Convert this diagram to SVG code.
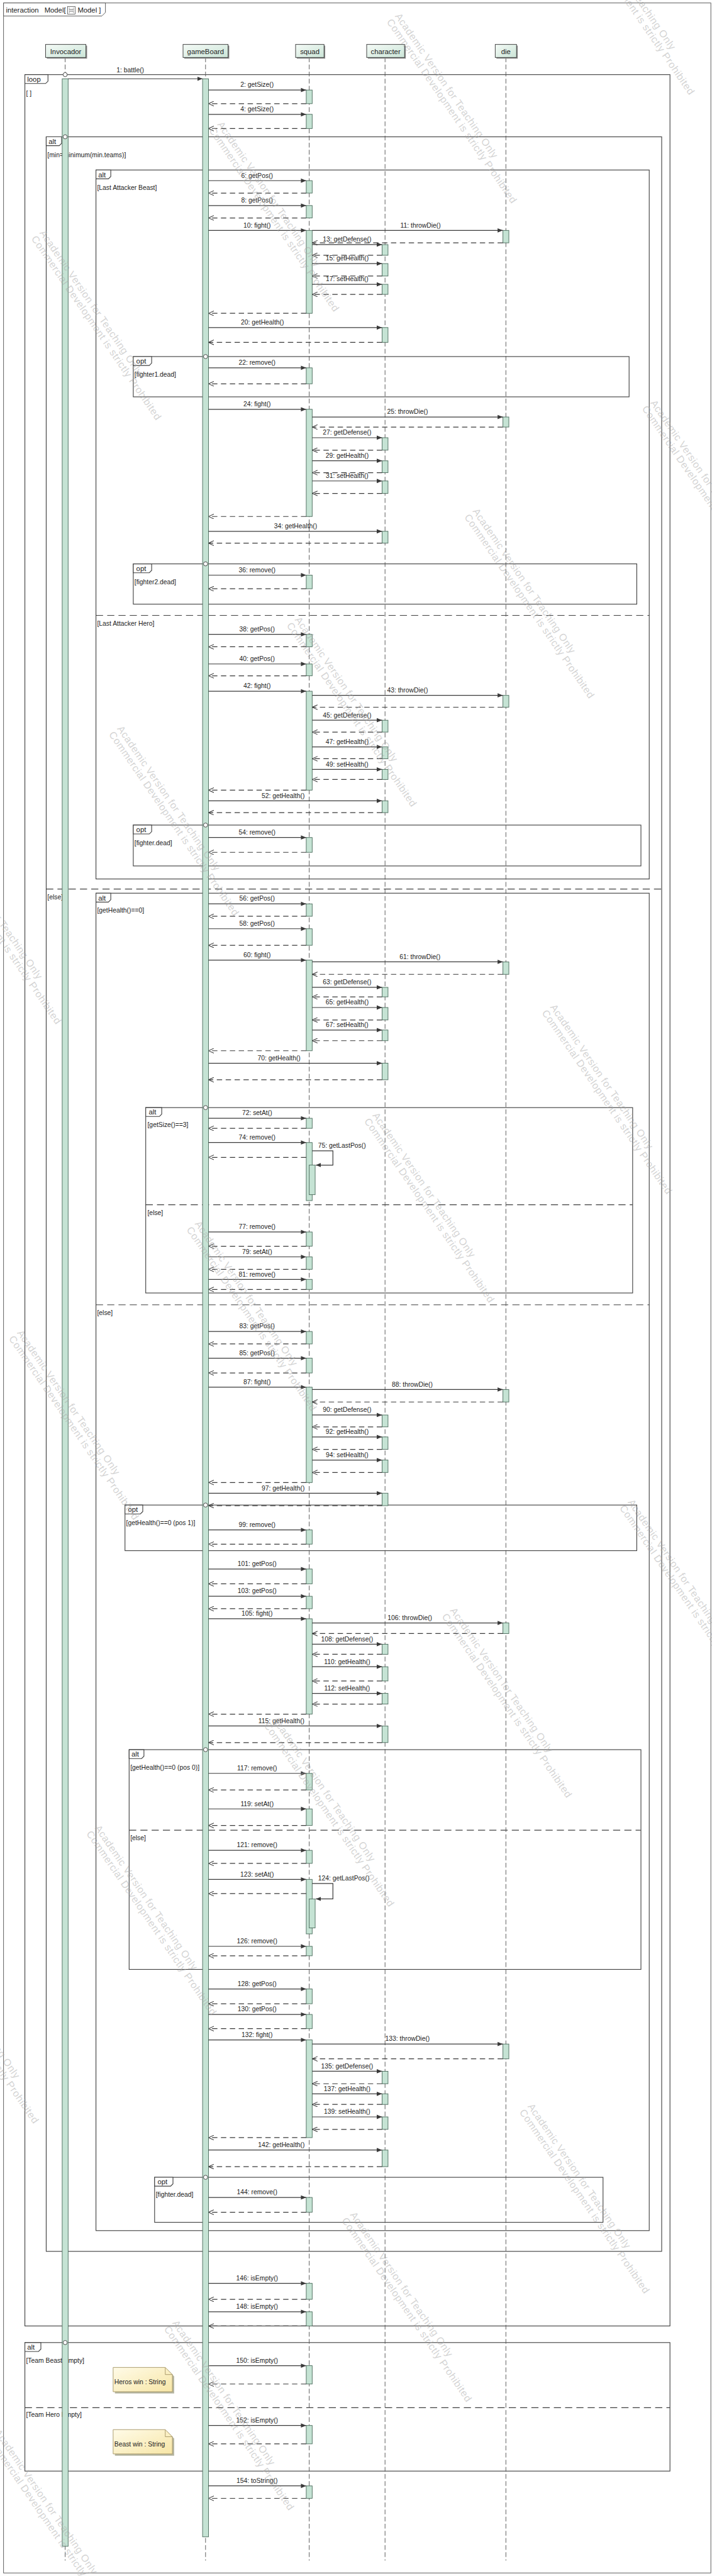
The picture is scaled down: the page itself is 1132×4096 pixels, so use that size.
<svg xmlns="http://www.w3.org/2000/svg" width="1132" height="4096" viewBox="0 0 1132 4096">
<defs>
<linearGradient id="hg" x1="0" y1="0" x2="1" y2="1"><stop offset="0" stop-color="#f4faf6"/><stop offset="1" stop-color="#cbe5d7"/></linearGradient>
<linearGradient id="ng" x1="0" y1="0" x2="1" y2="1"><stop offset="0" stop-color="#fffbe8"/><stop offset="1" stop-color="#f7e6a6"/></linearGradient>
<marker id="ah" viewBox="0 0 10 10" refX="10" refY="5" markerWidth="9" markerHeight="9" markerUnits="userSpaceOnUse" orient="auto"><path d="M0,1 L10,5 L0,9 Z" fill="#3a3a3a"/></marker>
<marker id="oh" viewBox="0 0 10 10" refX="10" refY="5" markerWidth="9" markerHeight="9" markerUnits="userSpaceOnUse" orient="auto"><path d="M0,0.5 L10,5 L0,9.5" fill="none" stroke="#3a3a3a" stroke-width="1.2"/></marker>
<style>
text{font-family:'Liberation Sans',Arial,sans-serif;fill:#222}
.l{font-size:11px;text-anchor:middle}
.g{font-size:11px}
.t{font-size:12px}
.ht{font-size:12px;text-anchor:middle}
.hd{fill:url(#hg);stroke:#3c3c3c;stroke-width:1}
.sh{fill:#8a8a8a}
.ll{stroke:#555;stroke-width:1;stroke-dasharray:8 4}
.act{fill:#c5e3d4;stroke:#4f6f60;stroke-width:1}
.m{stroke:#3a3a3a;stroke-width:1.3;fill:none;marker-end:url(#ah)}
.r{stroke:#3a3a3a;stroke-width:1.3;fill:none;stroke-dasharray:9 6;marker-end:url(#oh)}
.fr{fill:none;stroke:#404040;stroke-width:1.2}
.tab{fill:#fff;stroke:#404040;stroke-width:1.2}
.sep{stroke:#404040;stroke-width:1.2;stroke-dasharray:12 7}
.ci{fill:#fff;stroke:#404040;stroke-width:1}
.wm text{font-size:17px;letter-spacing:0.6px;fill:#a8a8a8;fill-opacity:0.5}
</style>
</defs>
<g transform="scale(0.9418)">
<rect x="0" y="0" width="1202" height="4349" fill="#fff"/>
<!-- interaction frame -->
<g id="interaction-frame">
<rect x="6" y="5" width="1194" height="4339" fill="none" stroke="#555" stroke-width="1"/>
<path d="M6,5 H178 V21 L172,27 H6 Z" fill="#fff" stroke="#555" stroke-width="1"/>
<text class="t" x="10" y="21">interaction</text>
<text class="t" x="75" y="21">Model[</text>
<rect x="114" y="11" width="13" height="13" fill="#fff" stroke="#444" stroke-width="0.8"/>
<line x1="117" y1="13" x2="117" y2="22" stroke="#444" stroke-width="0.7" stroke-dasharray="1.5 1"/>
<line x1="124" y1="13" x2="124" y2="22" stroke="#444" stroke-width="0.7" stroke-dasharray="1.5 1"/>
<line x1="117" y1="16" x2="124" y2="16" stroke="#444" stroke-width="0.8"/>
<line x1="117" y1="19" x2="124" y2="19" stroke="#444" stroke-width="0.8"/>
<text class="t" x="131" y="21">Model ]</text>
</g>
<!-- fragments -->
<g id="fragments">
<g id="loop1"><rect class="fr" x="42" y="126" width="1089" height="3801"/><path class="tab" d="M42,126 H81 V137 L77,141 H42 Z"/><text class="t" x="46" y="138">loop</text><text class="g" x="44" y="161">[ ]</text></g>
<g id="alt-outer"><rect class="fr" x="78" y="231" width="1039" height="3570"/><path class="tab" d="M78,231 H104 V242 L100,246 H78 Z"/><text class="t" x="82" y="243">alt</text><text class="g" x="80" y="265">[min=minimum(min.teams)]</text><line class="sep" x1="78" y1="1501" x2="1117" y2="1501"/><text class="g" x="80" y="1518">[else]</text></g>
<g id="alt-attacker"><rect class="fr" x="162" y="287" width="934" height="1197"/><path class="tab" d="M162,287 H187 V298 L183,302 H162 Z"/><text class="t" x="166" y="299">alt</text><text class="g" x="164" y="321">[Last Attacker Beast]</text><line class="sep" x1="162" y1="1039" x2="1096" y2="1039"/><text class="g" x="164" y="1056">[Last Attacker Hero]</text></g>
<g id="opt-fighter1"><rect class="fr" x="225" y="602" width="837" height="68"/><path class="tab" d="M225,602 H256 V613 L252,617 H225 Z"/><text class="t" x="230" y="614">opt</text><text class="g" x="227" y="636">[fighter1.dead]</text></g>
<g id="opt-fighter2"><rect class="fr" x="225" y="952" width="850" height="68"/><path class="tab" d="M225,952 H256 V963 L252,967 H225 Z"/><text class="t" x="230" y="964">opt</text><text class="g" x="227" y="986">[fighter2.dead]</text></g>
<g id="opt-fighter"><rect class="fr" x="225" y="1393" width="857" height="69"/><path class="tab" d="M225,1393 H256 V1404 L252,1408 H225 Z"/><text class="t" x="230" y="1405">opt</text><text class="g" x="227" y="1427">[fighter.dead]</text></g>
<g id="alt-health"><rect class="fr" x="162" y="1508" width="934" height="2258"/><path class="tab" d="M162,1508 H187 V1519 L183,1523 H162 Z"/><text class="t" x="166" y="1520">alt</text><text class="g" x="164" y="1541">[getHealth()==0]</text><line class="sep" x1="162" y1="2203" x2="1096" y2="2203"/><text class="g" x="164" y="2220">[else]</text></g>
<g id="alt-size"><rect class="fr" x="246" y="1870" width="822" height="313"/><path class="tab" d="M246,1870 H273 V1881 L269,1885 H246 Z"/><text class="t" x="251" y="1882">alt</text><text class="g" x="249" y="1903">[getSize()==3]</text><line class="sep" x1="246" y1="2034" x2="1068" y2="2034"/><text class="g" x="249" y="2051">[else]</text></g>
<g id="opt-pos1"><rect class="fr" x="211" y="2541" width="864" height="77"/><path class="tab" d="M211,2541 H241 V2552 L237,2556 H211 Z"/><text class="t" x="216" y="2553">opt</text><text class="g" x="213" y="2575">[getHealth()==0 (pos 1)]</text></g>
<g id="alt-pos0"><rect class="fr" x="218" y="2954" width="864" height="371"/><path class="tab" d="M218,2954 H243 V2965 L239,2969 H218 Z"/><text class="t" x="222" y="2966">alt</text><text class="g" x="220" y="2988">[getHealth()==0 (pos 0)]</text><line class="sep" x1="218" y1="3090" x2="1082" y2="3090"/><text class="g" x="220" y="3107">[else]</text></g>
<g id="opt-dead"><rect class="fr" x="261" y="3676" width="757" height="76"/><path class="tab" d="M261,3676 H292 V3687 L288,3691 H261 Z"/><text class="t" x="266" y="3688">opt</text><text class="g" x="263" y="3709">[fighter.dead]</text></g>
<g id="alt-team"><rect class="fr" x="42" y="3955" width="1089" height="217"/><path class="tab" d="M42,3955 H69 V3966 L65,3970 H42 Z"/><text class="t" x="46" y="3967">alt</text><text class="g" x="44" y="3989">[Team Beast Empty]</text><line class="sep" x1="42" y1="4065" x2="1131" y2="4065"/><text class="g" x="44" y="4081">[Team Hero Empty]</text></g>
</g>
<!-- notes -->
<g id="note-heros"><path d="M194,4000 H282 L294,4012 V4041 H194 Z" fill="#b5b5a0"/><path d="M191,3997 H279 L291,4009 V4038 H191 Z" fill="url(#ng)" stroke="#a89868" stroke-width="1"/><path d="M279,3997 V4009 H291" fill="none" stroke="#a89868" stroke-width="1"/><text class="g" x="193" y="4025">Heros win : String</text></g>
<g id="note-beast"><path d="M194,4105 H282 L294,4117 V4146 H194 Z" fill="#b5b5a0"/><path d="M191,4102 H279 L291,4114 V4143 H191 Z" fill="url(#ng)" stroke="#a89868" stroke-width="1"/><path d="M279,4102 V4114 H291" fill="none" stroke="#a89868" stroke-width="1"/><text class="g" x="193" y="4130">Beast win : String</text></g>
<!-- lifelines -->
<g id="invocador">
<line class="ll" x1="110" y1="97" x2="110" y2="4323"/>
<rect class="sh" x="79" y="77" width="68" height="22"/><rect class="hd" x="77" y="75" width="68" height="22"/><text class="ht" x="111" y="91">Invocador</text>
<rect class="act" x="105" y="133" width="10" height="4166"/>
</g>
<g id="gameBoard">
<line class="ll" x1="347" y1="97" x2="347" y2="4323"/>
<rect class="sh" x="311" y="77" width="76" height="22"/><rect class="hd" x="309" y="75" width="76" height="22"/><text class="ht" x="347" y="91">gameBoard</text>
<rect class="act" x="342" y="133" width="10" height="4150"/>
</g>
<g id="squad">
<line class="ll" x1="522" y1="97" x2="522" y2="4323"/>
<rect class="sh" x="501" y="77" width="48" height="22"/><rect class="hd" x="499" y="75" width="48" height="22"/><text class="ht" x="523" y="91">squad</text>
<rect class="act" x="517" y="152" width="10" height="23"/>
<rect class="act" x="517" y="193" width="10" height="24"/>
<rect class="act" x="517" y="305" width="10" height="21"/>
<rect class="act" x="517" y="347" width="10" height="21"/>
<rect class="act" x="517" y="389" width="10" height="140"/>
<rect class="act" x="517" y="621" width="10" height="27"/>
<rect class="act" x="517" y="691" width="10" height="181"/>
<rect class="act" x="517" y="971" width="10" height="23"/>
<rect class="act" x="517" y="1071" width="10" height="21"/>
<rect class="act" x="517" y="1121" width="10" height="20"/>
<rect class="act" x="517" y="1167" width="10" height="167"/>
<rect class="act" x="517" y="1414" width="10" height="25"/>
<rect class="act" x="517" y="1526" width="10" height="21"/>
<rect class="act" x="517" y="1568" width="10" height="28"/>
<rect class="act" x="517" y="1621" width="10" height="153"/>
<rect class="act" x="517" y="1888" width="10" height="17"/>
<rect class="act" x="517" y="1929" width="10" height="98"/>
<rect class="act" x="522" y="1967" width="10" height="50"/>
<rect class="act" x="517" y="2080" width="10" height="24"/>
<rect class="act" x="517" y="2122" width="10" height="21"/>
<rect class="act" x="517" y="2160" width="10" height="17"/>
<rect class="act" x="517" y="2248" width="10" height="21"/>
<rect class="act" x="517" y="2293" width="10" height="25"/>
<rect class="act" x="517" y="2342" width="10" height="161"/>
<rect class="act" x="517" y="2583" width="10" height="24"/>
<rect class="act" x="517" y="2649" width="10" height="25"/>
<rect class="act" x="517" y="2695" width="10" height="21"/>
<rect class="act" x="517" y="2733" width="10" height="161"/>
<rect class="act" x="517" y="2994" width="10" height="28"/>
<rect class="act" x="517" y="3054" width="10" height="28"/>
<rect class="act" x="517" y="3124" width="10" height="22"/>
<rect class="act" x="517" y="3173" width="10" height="92"/>
<rect class="act" x="522" y="3206" width="10" height="49"/>
<rect class="act" x="517" y="3286" width="10" height="16"/>
<rect class="act" x="517" y="3358" width="10" height="25"/>
<rect class="act" x="517" y="3401" width="10" height="24"/>
<rect class="act" x="517" y="3444" width="10" height="165"/>
<rect class="act" x="517" y="3710" width="10" height="25"/>
<rect class="act" x="517" y="3855" width="10" height="27"/>
<rect class="act" x="517" y="3903" width="10" height="24"/>
<rect class="act" x="517" y="3994" width="10" height="31"/>
<rect class="act" x="517" y="4095" width="10" height="31"/>
<rect class="act" x="517" y="4197" width="10" height="21"/>
</g>
<g id="character">
<line class="ll" x1="650" y1="97" x2="650" y2="4323"/>
<rect class="sh" x="621" y="77" width="64" height="22"/><rect class="hd" x="619" y="75" width="64" height="22"/><text class="ht" x="651" y="91">character</text>
<rect class="act" x="645" y="413" width="10" height="18"/>
<rect class="act" x="645" y="445" width="10" height="21"/>
<rect class="act" x="645" y="480" width="10" height="17"/>
<rect class="act" x="645" y="553" width="10" height="25"/>
<rect class="act" x="645" y="739" width="10" height="21"/>
<rect class="act" x="645" y="778" width="10" height="20"/>
<rect class="act" x="645" y="812" width="10" height="21"/>
<rect class="act" x="645" y="897" width="10" height="20"/>
<rect class="act" x="645" y="1216" width="10" height="20"/>
<rect class="act" x="645" y="1261" width="10" height="20"/>
<rect class="act" x="645" y="1299" width="10" height="17"/>
<rect class="act" x="645" y="1352" width="10" height="20"/>
<rect class="act" x="645" y="1667" width="10" height="16"/>
<rect class="act" x="645" y="1701" width="10" height="21"/>
<rect class="act" x="645" y="1739" width="10" height="18"/>
<rect class="act" x="645" y="1795" width="10" height="28"/>
<rect class="act" x="645" y="2389" width="10" height="20"/>
<rect class="act" x="645" y="2426" width="10" height="21"/>
<rect class="act" x="645" y="2465" width="10" height="21"/>
<rect class="act" x="645" y="2521" width="10" height="21"/>
<rect class="act" x="645" y="2776" width="10" height="17"/>
<rect class="act" x="645" y="2814" width="10" height="24"/>
<rect class="act" x="645" y="2859" width="10" height="18"/>
<rect class="act" x="645" y="2914" width="10" height="28"/>
<rect class="act" x="645" y="3497" width="10" height="21"/>
<rect class="act" x="645" y="3535" width="10" height="18"/>
<rect class="act" x="645" y="3574" width="10" height="21"/>
<rect class="act" x="645" y="3630" width="10" height="28"/>
</g>
<g id="die">
<line class="ll" x1="854" y1="97" x2="854" y2="4323"/>
<rect class="sh" x="838" y="77" width="36" height="22"/><rect class="hd" x="836" y="75" width="36" height="22"/><text class="ht" x="854" y="91">die</text>
<rect class="act" x="849" y="389" width="10" height="21"/>
<rect class="act" x="849" y="704" width="10" height="17"/>
<rect class="act" x="849" y="1174" width="10" height="20"/>
<rect class="act" x="849" y="1624" width="10" height="21"/>
<rect class="act" x="849" y="2346" width="10" height="21"/>
<rect class="act" x="849" y="2740" width="10" height="18"/>
<rect class="act" x="849" y="3451" width="10" height="25"/>
</g>
<!-- fragment anchor circles -->
<g id="anchors">
<circle class="ci" cx="110" cy="126" r="3.5"/><circle class="ci" cx="110" cy="231" r="3.5"/>
<circle class="ci" cx="347" cy="602" r="3.5"/><circle class="ci" cx="347" cy="952" r="3.5"/><circle class="ci" cx="347" cy="1393" r="3.5"/>
<circle class="ci" cx="347" cy="1870" r="3.5"/><circle class="ci" cx="347" cy="2541" r="3.5"/><circle class="ci" cx="347" cy="2954" r="3.5"/>
<circle class="ci" cx="347" cy="3676" r="3.5"/><circle class="ci" cx="110" cy="3955" r="3.5"/>
</g>
<!-- connectors -->
<g id="connectors">
<line class="m" x1="115" y1="133" x2="342" y2="133"/><text class="l" x="220" y="122">1: battle()</text>
<line class="m" x1="352" y1="152" x2="517" y2="152"/><line class="r" x1="517" y1="175" x2="352" y2="175"/><text class="l" x="434" y="147">2: getSize()</text>
<line class="m" x1="352" y1="193" x2="517" y2="193"/><line class="r" x1="517" y1="217" x2="352" y2="217"/><text class="l" x="434" y="188">4: getSize()</text>
<line class="m" x1="352" y1="305" x2="517" y2="305"/><line class="r" x1="517" y1="326" x2="352" y2="326"/><text class="l" x="434" y="300">6: getPos()</text>
<line class="m" x1="352" y1="347" x2="517" y2="347"/><line class="r" x1="517" y1="368" x2="352" y2="368"/><text class="l" x="434" y="342">8: getPos()</text>
<line class="m" x1="352" y1="389" x2="517" y2="389"/><text class="l" x="434" y="384">10: fight()</text>
<line class="m" x1="527" y1="389" x2="849" y2="389"/><line class="r" x1="849" y1="410" x2="527" y2="410"/><text class="l" x="710" y="384">11: throwDie()</text>
<line class="m" x1="527" y1="413" x2="645" y2="413"/><line class="r" x1="645" y1="431" x2="527" y2="431"/><text class="l" x="586" y="408">13: getDefense()</text>
<line class="m" x1="527" y1="445" x2="645" y2="445"/><line class="r" x1="645" y1="466" x2="527" y2="466"/><text class="l" x="586" y="440">15: getHealth()</text>
<line class="m" x1="527" y1="480" x2="645" y2="480"/><line class="r" x1="645" y1="497" x2="527" y2="497"/><text class="l" x="586" y="475">17: setHealth()</text>
<line class="r" x1="517" y1="529" x2="352" y2="529"/>
<line class="m" x1="352" y1="553" x2="645" y2="553"/><line class="r" x1="645" y1="578" x2="352" y2="578"/><text class="l" x="443" y="548">20: getHealth()</text>
<line class="m" x1="352" y1="621" x2="517" y2="621"/><line class="r" x1="517" y1="648" x2="352" y2="648"/><text class="l" x="434" y="616">22: remove()</text>
<line class="m" x1="352" y1="691" x2="517" y2="691"/><text class="l" x="434" y="686">24: fight()</text>
<line class="m" x1="527" y1="704" x2="849" y2="704"/><line class="r" x1="849" y1="721" x2="527" y2="721"/><text class="l" x="688" y="699">25: throwDie()</text>
<line class="m" x1="527" y1="739" x2="645" y2="739"/><line class="r" x1="645" y1="760" x2="527" y2="760"/><text class="l" x="586" y="734">27: getDefense()</text>
<line class="m" x1="527" y1="778" x2="645" y2="778"/><line class="r" x1="645" y1="798" x2="527" y2="798"/><text class="l" x="586" y="773">29: getHealth()</text>
<line class="m" x1="527" y1="812" x2="645" y2="812"/><line class="r" x1="645" y1="833" x2="527" y2="833"/><text class="l" x="586" y="807">31: setHealth()</text>
<line class="r" x1="517" y1="872" x2="352" y2="872"/>
<line class="m" x1="352" y1="897" x2="645" y2="897"/><line class="r" x1="645" y1="917" x2="352" y2="917"/><text class="l" x="499" y="892">34: getHealth()</text>
<line class="m" x1="352" y1="971" x2="517" y2="971"/><line class="r" x1="517" y1="994" x2="352" y2="994"/><text class="l" x="434" y="966">36: remove()</text>
<line class="m" x1="352" y1="1071" x2="517" y2="1071"/><line class="r" x1="517" y1="1092" x2="352" y2="1092"/><text class="l" x="434" y="1066">38: getPos()</text>
<line class="m" x1="352" y1="1121" x2="517" y2="1121"/><line class="r" x1="517" y1="1141" x2="352" y2="1141"/><text class="l" x="434" y="1116">40: getPos()</text>
<line class="m" x1="352" y1="1167" x2="517" y2="1167"/><text class="l" x="434" y="1162">42: fight()</text>
<line class="m" x1="527" y1="1174" x2="849" y2="1174"/><line class="r" x1="849" y1="1194" x2="527" y2="1194"/><text class="l" x="688" y="1169">43: throwDie()</text>
<line class="m" x1="527" y1="1216" x2="645" y2="1216"/><line class="r" x1="645" y1="1236" x2="527" y2="1236"/><text class="l" x="586" y="1211">45: getDefense()</text>
<line class="m" x1="527" y1="1261" x2="645" y2="1261"/><line class="r" x1="645" y1="1281" x2="527" y2="1281"/><text class="l" x="586" y="1256">47: getHealth()</text>
<line class="m" x1="527" y1="1299" x2="645" y2="1299"/><line class="r" x1="645" y1="1316" x2="527" y2="1316"/><text class="l" x="586" y="1294">49: setHealth()</text>
<line class="r" x1="517" y1="1334" x2="352" y2="1334"/>
<line class="m" x1="352" y1="1352" x2="645" y2="1352"/><line class="r" x1="645" y1="1372" x2="352" y2="1372"/><text class="l" x="478" y="1347">52: getHealth()</text>
<line class="m" x1="352" y1="1414" x2="517" y2="1414"/><line class="r" x1="517" y1="1439" x2="352" y2="1439"/><text class="l" x="434" y="1409">54: remove()</text>
<line class="m" x1="352" y1="1526" x2="517" y2="1526"/><line class="r" x1="517" y1="1547" x2="352" y2="1547"/><text class="l" x="434" y="1521">56: getPos()</text>
<line class="m" x1="352" y1="1568" x2="517" y2="1568"/><line class="r" x1="517" y1="1596" x2="352" y2="1596"/><text class="l" x="434" y="1563">58: getPos()</text>
<line class="m" x1="352" y1="1621" x2="517" y2="1621"/><text class="l" x="434" y="1616">60: fight()</text>
<line class="m" x1="527" y1="1624" x2="849" y2="1624"/><line class="r" x1="849" y1="1645" x2="527" y2="1645"/><text class="l" x="709" y="1619">61: throwDie()</text>
<line class="m" x1="527" y1="1667" x2="645" y2="1667"/><line class="r" x1="645" y1="1683" x2="527" y2="1683"/><text class="l" x="586" y="1662">63: getDefense()</text>
<line class="m" x1="527" y1="1701" x2="645" y2="1701"/><line class="r" x1="645" y1="1722" x2="527" y2="1722"/><text class="l" x="586" y="1696">65: getHealth()</text>
<line class="m" x1="527" y1="1739" x2="645" y2="1739"/><line class="r" x1="645" y1="1757" x2="527" y2="1757"/><text class="l" x="586" y="1734">67: setHealth()</text>
<line class="r" x1="517" y1="1774" x2="352" y2="1774"/>
<line class="m" x1="352" y1="1795" x2="645" y2="1795"/><line class="r" x1="645" y1="1823" x2="352" y2="1823"/><text class="l" x="471" y="1790">70: getHealth()</text>
<line class="m" x1="352" y1="1888" x2="517" y2="1888"/><line class="r" x1="517" y1="1905" x2="352" y2="1905"/><text class="l" x="434" y="1883">72: setAt()</text>
<line class="m" x1="352" y1="1929" x2="517" y2="1929"/><line class="r" x1="517" y1="1954" x2="352" y2="1954"/><text class="l" x="434" y="1924">74: remove()</text>
<path class="m" d="M527,1943 H562 V1967 H533"/><text class="g" x="537" y="1938">75: getLastPos()</text>
<line class="m" x1="352" y1="2080" x2="517" y2="2080"/><line class="r" x1="517" y1="2104" x2="352" y2="2104"/><text class="l" x="434" y="2075">77: remove()</text>
<line class="m" x1="352" y1="2122" x2="517" y2="2122"/><line class="r" x1="517" y1="2143" x2="352" y2="2143"/><text class="l" x="434" y="2117">79: setAt()</text>
<line class="m" x1="352" y1="2160" x2="517" y2="2160"/><line class="r" x1="517" y1="2177" x2="352" y2="2177"/><text class="l" x="434" y="2155">81: remove()</text>
<line class="m" x1="352" y1="2248" x2="517" y2="2248"/><line class="r" x1="517" y1="2269" x2="352" y2="2269"/><text class="l" x="434" y="2243">83: getPos()</text>
<line class="m" x1="352" y1="2293" x2="517" y2="2293"/><line class="r" x1="517" y1="2318" x2="352" y2="2318"/><text class="l" x="434" y="2288">85: getPos()</text>
<line class="m" x1="352" y1="2342" x2="517" y2="2342"/><text class="l" x="434" y="2337">87: fight()</text>
<line class="m" x1="527" y1="2346" x2="849" y2="2346"/><line class="r" x1="849" y1="2367" x2="527" y2="2367"/><text class="l" x="696" y="2341">88: throwDie()</text>
<line class="m" x1="527" y1="2389" x2="645" y2="2389"/><line class="r" x1="645" y1="2409" x2="527" y2="2409"/><text class="l" x="586" y="2384">90: getDefense()</text>
<line class="m" x1="527" y1="2426" x2="645" y2="2426"/><line class="r" x1="645" y1="2447" x2="527" y2="2447"/><text class="l" x="586" y="2421">92: getHealth()</text>
<line class="m" x1="527" y1="2465" x2="645" y2="2465"/><line class="r" x1="645" y1="2486" x2="527" y2="2486"/><text class="l" x="586" y="2460">94: setHealth()</text>
<line class="r" x1="517" y1="2503" x2="352" y2="2503"/>
<line class="m" x1="352" y1="2521" x2="645" y2="2521"/><line class="r" x1="645" y1="2542" x2="352" y2="2542"/><text class="l" x="478" y="2516">97: getHealth()</text>
<line class="m" x1="352" y1="2583" x2="517" y2="2583"/><line class="r" x1="517" y1="2607" x2="352" y2="2607"/><text class="l" x="434" y="2578">99: remove()</text>
<line class="m" x1="352" y1="2649" x2="517" y2="2649"/><line class="r" x1="517" y1="2674" x2="352" y2="2674"/><text class="l" x="434" y="2644">101: getPos()</text>
<line class="m" x1="352" y1="2695" x2="517" y2="2695"/><line class="r" x1="517" y1="2716" x2="352" y2="2716"/><text class="l" x="434" y="2690">103: getPos()</text>
<line class="m" x1="352" y1="2733" x2="517" y2="2733"/><text class="l" x="434" y="2728">105: fight()</text>
<line class="m" x1="527" y1="2740" x2="849" y2="2740"/><line class="r" x1="849" y1="2758" x2="527" y2="2758"/><text class="l" x="692" y="2735">106: throwDie()</text>
<line class="m" x1="527" y1="2776" x2="645" y2="2776"/><line class="r" x1="645" y1="2793" x2="527" y2="2793"/><text class="l" x="586" y="2771">108: getDefense()</text>
<line class="m" x1="527" y1="2814" x2="645" y2="2814"/><line class="r" x1="645" y1="2838" x2="527" y2="2838"/><text class="l" x="586" y="2809">110: getHealth()</text>
<line class="m" x1="527" y1="2859" x2="645" y2="2859"/><line class="r" x1="645" y1="2877" x2="527" y2="2877"/><text class="l" x="586" y="2854">112: setHealth()</text>
<line class="r" x1="517" y1="2894" x2="352" y2="2894"/>
<line class="m" x1="352" y1="2914" x2="645" y2="2914"/><line class="r" x1="645" y1="2942" x2="352" y2="2942"/><text class="l" x="475" y="2909">115: getHealth()</text>
<line class="m" x1="352" y1="2994" x2="517" y2="2994"/><line class="r" x1="517" y1="3022" x2="352" y2="3022"/><text class="l" x="434" y="2989">117: remove()</text>
<line class="m" x1="352" y1="3054" x2="517" y2="3054"/><line class="r" x1="517" y1="3082" x2="352" y2="3082"/><text class="l" x="434" y="3049">119: setAt()</text>
<line class="m" x1="352" y1="3124" x2="517" y2="3124"/><line class="r" x1="517" y1="3146" x2="352" y2="3146"/><text class="l" x="434" y="3119">121: remove()</text>
<line class="m" x1="352" y1="3173" x2="517" y2="3173"/><line class="r" x1="517" y1="3197" x2="352" y2="3197"/><text class="l" x="434" y="3168">123: setAt()</text>
<path class="m" d="M527,3180 H562 V3206 H533"/><text class="g" x="537" y="3175">124: getLastPos()</text>
<line class="m" x1="352" y1="3286" x2="517" y2="3286"/><line class="r" x1="517" y1="3302" x2="352" y2="3302"/><text class="l" x="434" y="3281">126: remove()</text>
<line class="m" x1="352" y1="3358" x2="517" y2="3358"/><line class="r" x1="517" y1="3383" x2="352" y2="3383"/><text class="l" x="434" y="3353">128: getPos()</text>
<line class="m" x1="352" y1="3401" x2="517" y2="3401"/><line class="r" x1="517" y1="3425" x2="352" y2="3425"/><text class="l" x="434" y="3396">130: getPos()</text>
<line class="m" x1="352" y1="3444" x2="517" y2="3444"/><text class="l" x="434" y="3439">132: fight()</text>
<line class="m" x1="527" y1="3451" x2="849" y2="3451"/><line class="r" x1="849" y1="3476" x2="527" y2="3476"/><text class="l" x="688" y="3446">133: throwDie()</text>
<line class="m" x1="527" y1="3497" x2="645" y2="3497"/><line class="r" x1="645" y1="3518" x2="527" y2="3518"/><text class="l" x="586" y="3492">135: getDefense()</text>
<line class="m" x1="527" y1="3535" x2="645" y2="3535"/><line class="r" x1="645" y1="3553" x2="527" y2="3553"/><text class="l" x="586" y="3530">137: getHealth()</text>
<line class="m" x1="527" y1="3574" x2="645" y2="3574"/><line class="r" x1="645" y1="3595" x2="527" y2="3595"/><text class="l" x="586" y="3569">139: setHealth()</text>
<line class="r" x1="517" y1="3609" x2="352" y2="3609"/>
<line class="m" x1="352" y1="3630" x2="645" y2="3630"/><line class="r" x1="645" y1="3658" x2="352" y2="3658"/><text class="l" x="475" y="3625">142: getHealth()</text>
<line class="m" x1="352" y1="3710" x2="517" y2="3710"/><line class="r" x1="517" y1="3735" x2="352" y2="3735"/><text class="l" x="434" y="3705">144: remove()</text>
<line class="m" x1="352" y1="3855" x2="517" y2="3855"/><line class="r" x1="517" y1="3882" x2="352" y2="3882"/><text class="l" x="434" y="3850">146: isEmpty()</text>
<line class="m" x1="352" y1="3903" x2="517" y2="3903"/><line class="r" x1="517" y1="3927" x2="352" y2="3927"/><text class="l" x="434" y="3898">148: isEmpty()</text>
<line class="m" x1="352" y1="3994" x2="517" y2="3994"/><line class="r" x1="517" y1="4025" x2="352" y2="4025"/><text class="l" x="434" y="3989">150: isEmpty()</text>
<line class="m" x1="352" y1="4095" x2="517" y2="4095"/><line class="r" x1="517" y1="4126" x2="352" y2="4126"/><text class="l" x="434" y="4090">152: isEmpty()</text>
<line class="m" x1="352" y1="4197" x2="517" y2="4197"/><line class="r" x1="517" y1="4218" x2="352" y2="4218"/><text class="l" x="434" y="4192">154: toString()</text>
</g>
<!-- watermark -->
<g class="wm">
<g transform="translate(977,-163) rotate(55.5)"><text y="13">Academic Version for Teaching Only</text><text y="30">Commercial Development is strictly Prohibited</text></g>
<g transform="translate(677,20) rotate(55.5)"><text y="13">Academic Version for Teaching Only</text><text y="30">Commercial Development is strictly Prohibited</text></g>
<g transform="translate(377,203) rotate(55.5)"><text y="13">Academic Version for Teaching Only</text><text y="30">Commercial Development is strictly Prohibited</text></g>
<g transform="translate(77,386) rotate(55.5)"><text y="13">Academic Version for Teaching Only</text><text y="30">Commercial Development is strictly Prohibited</text></g>
<g transform="translate(1108,673) rotate(55.5)"><text y="13">Academic Version for Teaching Only</text><text y="30">Commercial Development is strictly Prohibited</text></g>
<g transform="translate(808,856) rotate(55.5)"><text y="13">Academic Version for Teaching Only</text><text y="30">Commercial Development is strictly Prohibited</text></g>
<g transform="translate(508,1039) rotate(55.5)"><text y="13">Academic Version for Teaching Only</text><text y="30">Commercial Development is strictly Prohibited</text></g>
<g transform="translate(208,1223) rotate(55.5)"><text y="13">Academic Version for Teaching Only</text><text y="30">Commercial Development is strictly Prohibited</text></g>
<g transform="translate(-92,1406) rotate(55.5)"><text y="13">Academic Version for Teaching Only</text><text y="30">Commercial Development is strictly Prohibited</text></g>
<g transform="translate(939,1693) rotate(55.5)"><text y="13">Academic Version for Teaching Only</text><text y="30">Commercial Development is strictly Prohibited</text></g>
<g transform="translate(639,1876) rotate(55.5)"><text y="13">Academic Version for Teaching Only</text><text y="30">Commercial Development is strictly Prohibited</text></g>
<g transform="translate(339,2059) rotate(55.5)"><text y="13">Academic Version for Teaching Only</text><text y="30">Commercial Development is strictly Prohibited</text></g>
<g transform="translate(39,2243) rotate(55.5)"><text y="13">Academic Version for Teaching Only</text><text y="30">Commercial Development is strictly Prohibited</text></g>
<g transform="translate(1070,2529) rotate(55.5)"><text y="13">Academic Version for Teaching Only</text><text y="30">Commercial Development is strictly Prohibited</text></g>
<g transform="translate(770,2712) rotate(55.5)"><text y="13">Academic Version for Teaching Only</text><text y="30">Commercial Development is strictly Prohibited</text></g>
<g transform="translate(470,2896) rotate(55.5)"><text y="13">Academic Version for Teaching Only</text><text y="30">Commercial Development is strictly Prohibited</text></g>
<g transform="translate(170,3079) rotate(55.5)"><text y="13">Academic Version for Teaching Only</text><text y="30">Commercial Development is strictly Prohibited</text></g>
<g transform="translate(-130,3262) rotate(55.5)"><text y="13">Academic Version for Teaching Only</text><text y="30">Commercial Development is strictly Prohibited</text></g>
<g transform="translate(901,3549) rotate(55.5)"><text y="13">Academic Version for Teaching Only</text><text y="30">Commercial Development is strictly Prohibited</text></g>
<g transform="translate(601,3732) rotate(55.5)"><text y="13">Academic Version for Teaching Only</text><text y="30">Commercial Development is strictly Prohibited</text></g>
<g transform="translate(301,3915) rotate(55.5)"><text y="13">Academic Version for Teaching Only</text><text y="30">Commercial Development is strictly Prohibited</text></g>
<g transform="translate(1,4099) rotate(55.5)"><text y="13">Academic Version for Teaching Only</text><text y="30">Commercial Development is strictly Prohibited</text></g>
</g>
</g>
</svg>
